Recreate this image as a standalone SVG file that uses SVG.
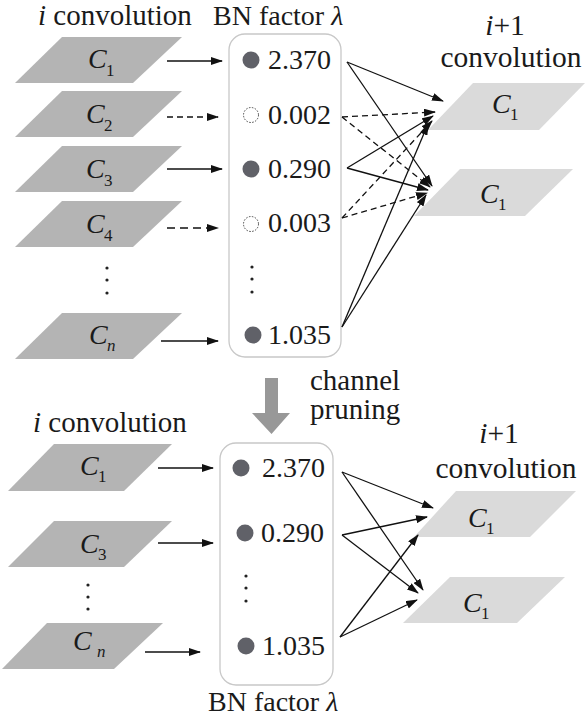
<svg xmlns="http://www.w3.org/2000/svg" width="586" height="718" viewBox="0 0 586 718" font-family="'Liberation Serif','DejaVu Serif','Noto Serif',serif">
<style>
text{font-family:'Liberation Serif','DejaVu Serif','Noto Serif',serif;font-size:28px;fill:#1a1a1a}
.it{font-style:italic}
.sub{font-size:17px}
.t29{font-size:29px}
.t30{font-size:29.5px}
.pl{fill:#b4b4b4}
.pr{fill:#dadada}
.box{fill:#fff;stroke:#c8c8c8;stroke-width:1.3}
.dot{fill:#606168}
.dc{fill:#fff;stroke:#444;stroke-width:1;stroke-dasharray:1.5 1.5}
.sm{fill:#222}
.a{stroke:#111;stroke-width:1.3;fill:none;marker-end:url(#ah)}
.d{stroke-dasharray:6 4}
.d2{stroke-dasharray:8 5}
</style>
<defs>
<marker id="ah" markerWidth="12" markerHeight="8" refX="11" refY="4" orient="auto" markerUnits="userSpaceOnUse"><path d="M0,0 L12,4 L0,8 z" fill="#111"/></marker>
</defs>

<!-- titles -->
<text class="t29" x="38" y="25"><tspan class="it">i</tspan> convolution</text>
<text x="213" y="25">BN factor <tspan class="it">λ</tspan></text>
<text class="t30" x="505" y="35" text-anchor="middle"><tspan class="it">i</tspan>+1</text>
<text class="t30" x="511" y="67" text-anchor="middle">convolution</text>

<!-- top left channels -->
<g id="tC1"><polygon class="pl" points="62,37 182,37 133,83 15,83"/><text class="it" x="88" y="68">C</text><text class="sub" x="106" y="76">1</text></g>
<g id="tC2"><polygon class="pl" points="62,91 182,91 133,137 15,137"/><text class="it" x="86" y="123">C</text><text class="sub" x="104" y="131">2</text></g>
<g id="tC3"><polygon class="pl" points="62,146 182,146 133,192 15,192"/><text class="it" x="86" y="178">C</text><text class="sub" x="104" y="186">3</text></g>
<g id="tC4"><polygon class="pl" points="62,201 182,201 133,247 15,247"/><text class="it" x="86" y="233">C</text><text class="sub" x="104" y="241">4</text></g>
<g id="tdots"><circle class="sm" cx="107" cy="268" r="1.6"/><circle class="sm" cx="107" cy="280" r="1.6"/><circle class="sm" cx="107" cy="293" r="1.6"/></g>
<g id="tCn"><polygon class="pl" points="62,313 182,313 133,359 15,359"/><text class="it" x="89" y="344">C</text><text class="sub it" x="107" y="351">n</text></g>

<!-- top BN box -->
<g id="tBN">
<rect class="box" x="229" y="34" width="112" height="323" rx="16"/>
<circle class="dot" cx="251" cy="60" r="8.5"/><text x="268" y="69">2.370</text>
<circle class="dc" cx="251" cy="115" r="7.5"/><text x="268" y="124">0.002</text>
<circle class="dot" cx="251" cy="169" r="8.5"/><text x="268" y="178">0.290</text>
<circle class="dc" cx="251" cy="224" r="7.5"/><text x="268" y="232">0.003</text>
<circle class="sm" cx="252" cy="267" r="1.6"/><circle class="sm" cx="252" cy="279" r="1.6"/><circle class="sm" cx="252" cy="292" r="1.6"/>
<circle class="dot" cx="253" cy="335" r="8.5"/><text x="268" y="344">1.035</text>
</g>

<!-- top right channels -->
<g id="tR1"><polygon class="pr" points="473,83 585,83 539,130 428,130"/><text class="it" x="492" y="113">C</text><text class="sub" x="510" y="120">1</text></g>
<g id="tR2"><polygon class="pr" points="460,169 573,169 525,216 414,216"/><text class="it" x="480" y="203">C</text><text class="sub" x="498" y="210">1</text></g>

<!-- top connectors -->
<g id="tconn">
<line class="a" x1="167" y1="61" x2="222" y2="61"/>
<line class="a d" x1="167" y1="117" x2="218" y2="117" stroke-width="1"/>
<line class="a" x1="167" y1="169" x2="222" y2="169"/>
<line class="a d2" x1="167" y1="228" x2="218" y2="228"/>
<line class="a" x1="161" y1="341" x2="218" y2="341"/>

<line class="a" x1="347" y1="62" x2="443" y2="101"/>
<line class="a" x1="347" y1="62" x2="432" y2="186" stroke-width="1.6"/>
<line class="a d" x1="342" y1="117" x2="435" y2="112"/>
<line class="a d" x1="342" y1="117" x2="430" y2="187"/>
<line class="a" x1="347" y1="168" x2="433" y2="116"/>
<line class="a" x1="347" y1="168" x2="428" y2="190" stroke-width="1.8"/>
<line class="a d" x1="342" y1="218" x2="432" y2="121"/>
<line class="a d" x1="342" y1="218" x2="427" y2="193"/>
<line class="a" x1="342" y1="327" x2="428" y2="124"/>
<line class="a" x1="342" y1="327" x2="426" y2="195" stroke-width="1.8"/>
</g>

<!-- pruning arrow -->
<g id="prune">
<polygon points="265,378 278,378 278,413 290,413 271.5,434 252,413 265,413" fill="#989898"/>
<text class="t29" x="310" y="390">channel</text>
<text class="t29" x="310" y="419">pruning</text>
</g>

<!-- bottom titles -->
<text class="t29" x="33" y="432"><tspan class="it">i</tspan> convolution</text>
<text class="t30" x="499" y="443" text-anchor="middle"><tspan class="it">i</tspan>+1</text>
<text class="t30" x="506" y="478" text-anchor="middle">convolution</text>
<text x="208" y="711">BN factor <tspan class="it">λ</tspan></text>

<!-- bottom left channels -->
<g id="bC1"><polygon class="pl" points="54,444 172,444 124,491 8,491"/><text class="it" x="80" y="475">C</text><text class="sub" x="98" y="482">1</text></g>
<g id="bC3"><polygon class="pl" points="54,521 172,521 124,567 8,567"/><text class="it" x="80" y="553">C</text><text class="sub" x="98" y="560">3</text></g>
<g id="bdots"><circle class="sm" cx="88" cy="585" r="1.6"/><circle class="sm" cx="88" cy="597" r="1.6"/><circle class="sm" cx="88" cy="609" r="1.6"/></g>
<g id="bCn"><polygon class="pl" points="47,623 163,623 114,669 2,669"/><text class="it" x="73" y="650">C</text><text class="sub it" x="97" y="657">n</text></g>

<!-- bottom BN box -->
<g id="bBN">
<rect class="box" x="220" y="443" width="113" height="242" rx="16"/>
<circle class="dot" cx="241" cy="468" r="8.5"/><text x="262" y="477">2.370</text>
<circle class="dot" cx="245" cy="533" r="8.5"/><text x="261" y="542">0.290</text>
<circle class="sm" cx="246" cy="576" r="1.6"/><circle class="sm" cx="246" cy="588" r="1.6"/><circle class="sm" cx="246" cy="601" r="1.6"/>
<circle class="dot" cx="246" cy="646" r="8.5"/><text x="262" y="655">1.035</text>
</g>

<!-- bottom right channels -->
<g id="bR1"><polygon class="pr" points="456,491 576,491 530,537 414,537"/><text class="it" x="468" y="527">C</text><text class="sub" x="486" y="534">1</text></g>
<g id="bR2"><polygon class="pr" points="450,577 565,577 517,623 403,623"/><text class="it" x="463" y="612">C</text><text class="sub" x="481" y="619">1</text></g>

<!-- bottom connectors -->
<g id="bconn">
<line class="a" x1="158" y1="468" x2="213" y2="468"/>
<line class="a" x1="158" y1="543" x2="213" y2="543"/>
<line class="a" x1="145" y1="652" x2="200" y2="652"/>

<line class="a" x1="342" y1="472" x2="433" y2="508"/>
<line class="a" x1="342" y1="472" x2="423" y2="590"/>
<line class="a" x1="342" y1="535" x2="427" y2="517"/>
<line class="a" x1="342" y1="535" x2="418" y2="593"/>
<line class="a" x1="340" y1="637" x2="418" y2="535"/>
<line class="a" x1="340" y1="637" x2="417" y2="600"/>
</g>
</svg>
